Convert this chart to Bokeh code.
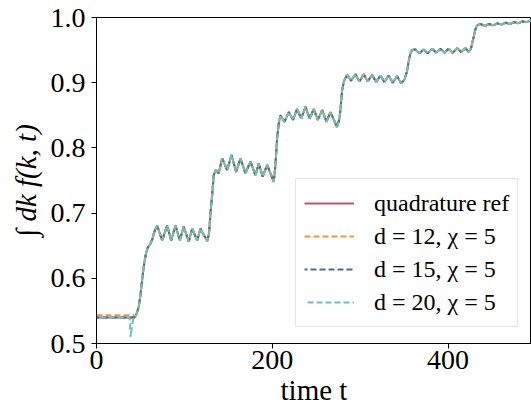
from bokeh.plotting import figure
from bokeh.models import Range1d, FixedTicker, CustomJSTickFormatter, Legend, LegendItem
from bokeh.embed import file_html
from bokeh.resources import INLINE

# ---- data ----
# shared part of all curves from t = 43 onward (the curves overlap)
t_steps = [43, 45, 48, 50, 52, 54, 56, 58, 61.4, 63.5, 66,
           69.0, 74.7, 80.4, 85.0, 89.9, 94.8, 99.3, 105.0, 108.9, 114.6, 118.3, 125.9,
           128, 129.7, 131.6, 133.4, 135.4,
           139.1, 143.0, 148.7, 153.6, 158.9, 163.8, 169.5, 175.2, 180.9, 184.6, 189.2, 194.2, 201.7,
           203.5, 205.6, 207.5, 209.3,
           213.9, 218.8, 223.7, 228.3, 232.8, 237.8, 242.7, 247.2, 251.8, 256.8, 261.7, 266.2, 273.8,
           276.5, 278.0, 279.5, 281.5, 283.3, 285.2,
           289.8, 294.7, 299.2, 304.1, 308.6, 313.7, 318.2, 323.1, 327.6, 332.5, 337.1, 342.1, 346.6,
           350.5, 353.5, 355.3, 357.5, 359.2, 362.9,
           367.5, 372.4, 376.9, 381.9, 386.5, 391.4, 395.9, 400.8, 405.3, 410.4, 414.9, 419.8, 423.5,
           426.0, 427.8, 429.5, 431.2, 433.1, 437.0, 442.0, 446.5, 451.5, 456.0, 461.0, 465.5,
           470.5, 475.0, 480.0, 484.5, 489.5, 495]
y_steps = [0.540, 0.543, 0.556, 0.574, 0.598, 0.620, 0.636, 0.646, 0.653, 0.660, 0.672,
           0.681, 0.658, 0.681, 0.658, 0.681, 0.658, 0.679, 0.656, 0.676, 0.658, 0.676, 0.657,
           0.668, 0.700, 0.728, 0.758, 0.766,
           0.761, 0.784, 0.766, 0.789, 0.763, 0.784, 0.761, 0.779, 0.758, 0.776, 0.756, 0.774, 0.748,
           0.772, 0.815, 0.838, 0.850,
           0.840, 0.855, 0.843, 0.860, 0.845, 0.863, 0.845, 0.860, 0.843, 0.858, 0.840, 0.855, 0.832,
           0.845, 0.865, 0.888, 0.902, 0.907, 0.912,
           0.903, 0.913, 0.902, 0.913, 0.902, 0.912, 0.901, 0.911, 0.901, 0.911, 0.900, 0.910, 0.899,
           0.905, 0.918, 0.934, 0.946, 0.950, 0.951,
           0.945, 0.951, 0.945, 0.952, 0.946, 0.952, 0.946, 0.952, 0.946, 0.953, 0.947, 0.953, 0.947,
           0.952, 0.962, 0.972, 0.982, 0.988, 0.990, 0.987, 0.990, 0.988, 0.991, 0.989, 0.992,
           0.990, 0.993, 0.991, 0.994, 0.993, 0.996]

# initial (t < 43) part of each curve
t_ref_head = [0, 40]
y_ref_head = [0.540, 0.540]
t_d12_head = [0, 42]
y_d12_head = [0.5435, 0.5435]
t_d15_head = [0, 40]
y_d15_head = [0.540, 0.540]
t_d20_head = [0, 37.5, 38.5, 38.0, 39.5, 38.5, 40.5, 41.5]
y_d20_head = [0.540, 0.540, 0.530, 0.523, 0.519, 0.510, 0.526, 0.536]

labels = ["quadrature ref", "d = 12, χ = 5", "d = 15, χ = 5", "d = 20, χ = 5"]
colors = ["#c0585f", "#f7953b", "#47708f", "#6fc2b7"]
x_ticks = [0, 200, 400]
y_ticks = [0.5, 0.6, 0.7, 0.8, 0.9, 1.0]

FONT = "Liberation Serif"

p = figure(width=531, height=408, x_range=Range1d(0, 495), y_range=Range1d(0.5, 1.0),
           output_backend="svg", toolbar_location=None,
           min_border_left=96, min_border_right=0, min_border_top=17, min_border_bottom=65,
           background_fill_color="white", border_fill_color="white")
p.grid.visible = False
p.outline_line_color = "black"
p.outline_line_width = 1
p.outline_line_alpha = 1.0

r0 = p.line(t_ref_head + t_steps, y_ref_head + y_steps, line_color=colors[0], line_width=2)
r1 = p.line(t_d12_head + t_steps, y_d12_head + y_steps, line_color=colors[1], line_width=2,
            line_dash="6 3", line_dash_offset=0)
r2 = p.line(t_d15_head + t_steps, y_d15_head + y_steps, line_color=colors[2], line_width=2,
            line_dash="6 3", line_dash_offset=3)
r3 = p.line(t_d20_head + t_steps, y_d20_head + y_steps, line_color=colors[3], line_width=2,
            line_dash="6 3", line_dash_offset=6)

for ax in (p.xaxis[0], p.yaxis[0]):
    ax.axis_line_color = "black"
    ax.axis_line_width = 1
    ax.major_tick_line_color = "black"
    ax.major_tick_out = 5
    ax.major_tick_in = 0
    ax.minor_tick_line_color = None
    ax.major_label_text_font = FONT
    ax.major_label_text_font_size = "28px"
    ax.major_label_text_color = "black"
    ax.axis_label_text_font = FONT
    ax.axis_label_text_font_size = "29px"
    ax.axis_label_text_color = "black"

p.xaxis[0].ticker = FixedTicker(ticks=x_ticks)
p.yaxis[0].ticker = FixedTicker(ticks=y_ticks)
p.yaxis[0].formatter = CustomJSTickFormatter(code="return tick.toFixed(1);")
p.xaxis[0].formatter = CustomJSTickFormatter(code="return tick.toFixed(0);")
p.xaxis[0].axis_label = "time t"
p.xaxis[0].axis_label_text_font_style = "normal"
p.xaxis[0].major_label_standoff = 2
p.xaxis[0].axis_label_standoff = 2
p.yaxis[0].axis_label = "∫ dk f(k, t)"
p.yaxis[0].axis_label_text_font_style = "italic"
p.yaxis[0].major_label_standoff = 6
p.yaxis[0].axis_label_standoff = 6

legend = Legend(items=[LegendItem(label=labels[i], renderers=[r]) for i, r in enumerate([r0, r1, r2, r3])],
                location=(199, 16))
legend.label_text_font = FONT
legend.label_text_font_size = "24px"
legend.label_text_color = "black"
legend.glyph_width = 50
legend.glyph_height = 32
legend.label_height = 32
legend.label_standoff = 20
legend.padding = 8
legend.spacing = 1
legend.margin = 0
legend.border_line_color = "#cccccc"
legend.border_line_width = 1
legend.background_fill_color = "white"
legend.background_fill_alpha = 0.8
p.add_layout(legend)

open("out.html", "w").write(file_html(p, INLINE))
